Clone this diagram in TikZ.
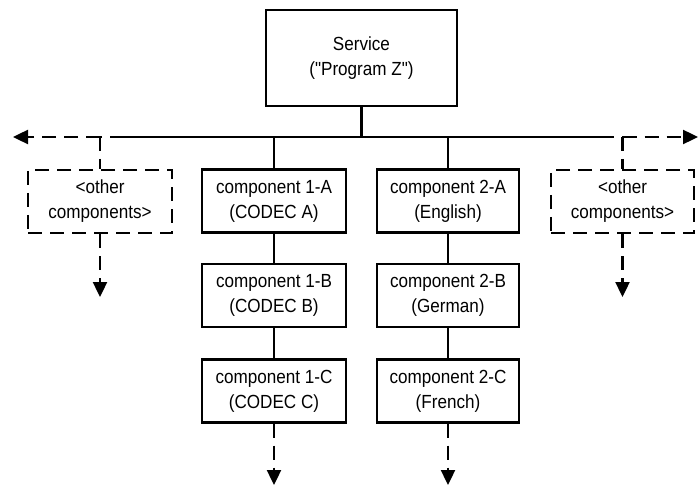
\documentclass[tikz,border=0pt]{standalone}
\usepackage{fontspec}
\newfontfamily\diagfont{Liberation Sans}[FakeStretch=0.9]
\usetikzlibrary{arrows.meta}
\begin{document}
\begin{tikzpicture}[x=1pt,y=-1pt,
  every node/.style={font=\diagfont\fontsize{19}{25}\selectfont, align=center, inner sep=0pt},
  box/.style={draw, line width=2.4pt, minimum width=144pt, minimum height=63pt},
  obox/.style={box, dash pattern=on 14pt off 8pt},
  conn/.style={line width=2.4pt},
  dsh/.style={line width=2.4pt, dash pattern=on 14pt off 8pt},
  tip/.style={-{Triangle[length=15pt,width=14pt]}}]
\useasboundingbox (0,0) rectangle (699,489);
\node[box, minimum width=191pt, minimum height=96pt] (svc) at (361.5,58) {Service\\("Program Z")};
\node[box] (c1a) at (274,201) {component 1-A\\(CODEC A)};
\node[box] (c1b) at (274,295.5) {component 1-B\\(CODEC B)};
\node[box] (c1c) at (274,391) {component 1-C\\(CODEC C)};
\node[box, minimum width=142pt] (c2a) at (448,201) {component 2-A\\(English)};
\node[box, minimum width=142pt] (c2b) at (448,295.5) {component 2-B\\(German)};
\node[box, minimum width=142pt] (c2c) at (448,391) {component 2-C\\(French)};
\node[obox] (oL) at (100,201.5) {<other\\components>};
\node[obox, minimum width=143pt] (oR) at (622.5,201.5) {<other\\components>};
\coordinate (bl) at (124,137);
\coordinate (br) at (600,137);
\coordinate (tl) at (13,137);
\coordinate (tr) at (698,137);
\coordinate (kL) at (100,137);
\coordinate (kR) at (622.5,137);
\coordinate (eL) at (100,297);
\coordinate (eR) at (622.5,297);
\coordinate (e1) at (274,485);
\coordinate (e2) at (448,485);
% bus
\draw[conn] (bl) -- (br);
\draw[conn] (svc.south) -- (svc.south |- bl);
\draw[dsh] (bl) -- (kL);
\draw[dsh, tip] (kL) -- (tl);
\draw[dsh] (br) -- (kR);
\draw[dsh, tip] (kR) -- (tr);
\draw[dsh] (kL) -- (oL.north);
\draw[dsh] (kR) -- (oR.north);
\draw[dsh, tip] (oL.south) -- (eL);
\draw[dsh, tip] (oR.south) -- (eR);
% columns
\draw[conn] (c1a.north) -- (c1a.north |- bl);
\draw[conn] (c2a.north) -- (c2a.north |- bl);
\draw[conn] (c1a) -- (c1b);
\draw[conn] (c1b) -- (c1c);
\draw[conn] (c2a) -- (c2b);
\draw[conn] (c2b) -- (c2c);
\draw[dsh, tip] (c1c.south) -- (e1);
\draw[dsh, tip] (c2c.south) -- (e2);
\end{tikzpicture}
\end{document}
